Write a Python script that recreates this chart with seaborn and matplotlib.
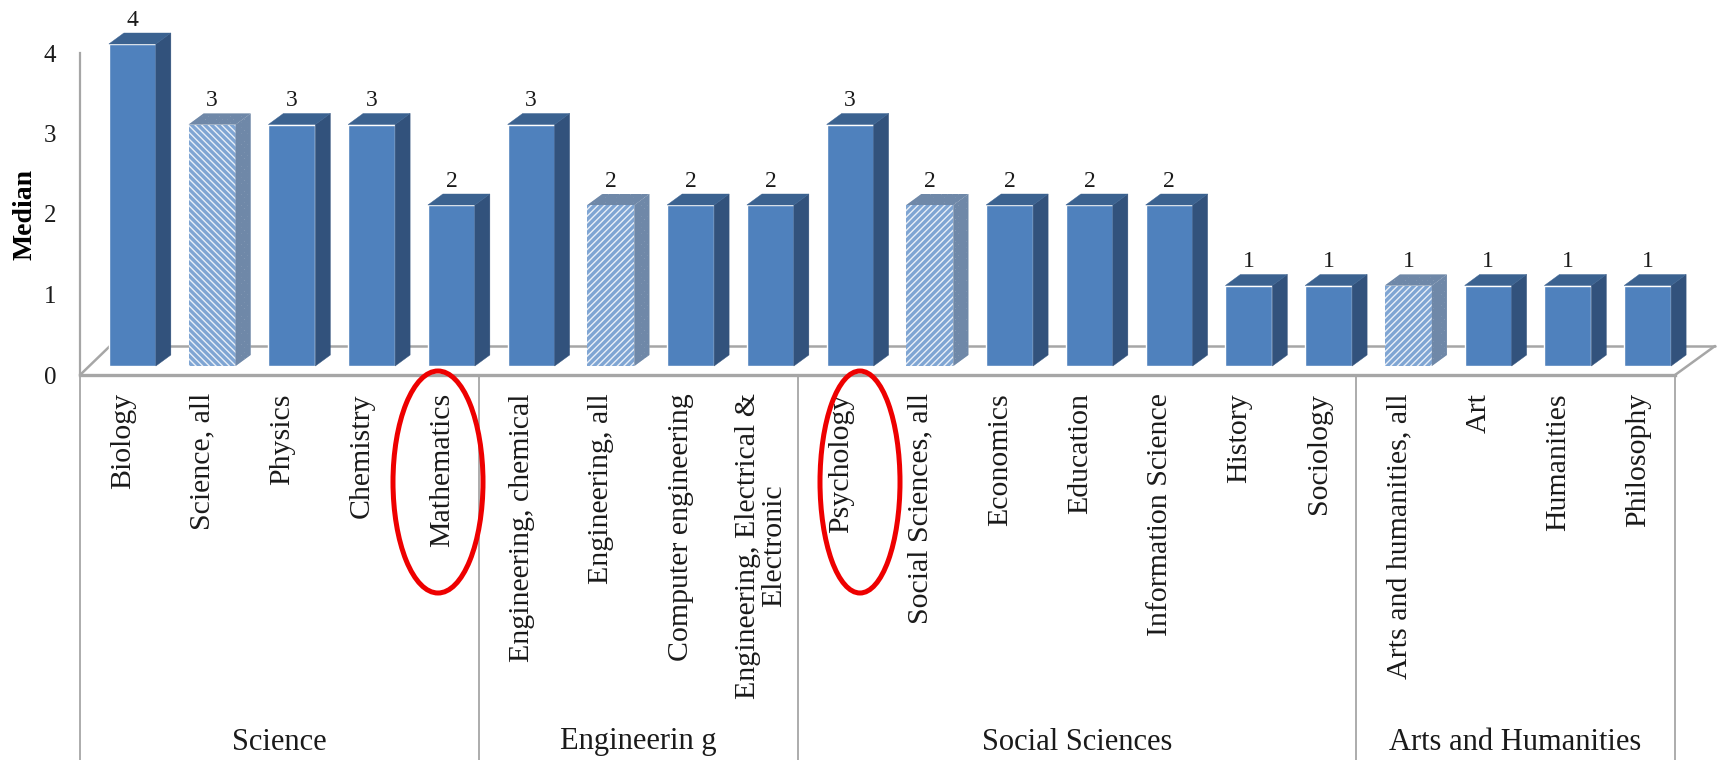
import matplotlib
matplotlib.use("Agg")
import matplotlib.pyplot as plt
import pandas as pd
import seaborn as sns
from matplotlib.lines import Line2D
from matplotlib.patches import Ellipse, Polygon
from matplotlib.transforms import Affine2D

categories = ["Biology", "Science, all", "Physics", "Chemistry", "Mathematics",
              "Engineering, chemical", "Engineering, all", "Computer engineering",
              "Engineering, Electrical &\nElectronic",
              "Psychology", "Social Sciences, all", "Economics", "Education",
              "Information Science", "History", "Sociology",
              "Arts and humanities, all", "Art", "Humanities", "Philosophy"]
medians = [4, 3, 3, 3, 2, 3, 2, 2, 2, 3, 2, 2, 2, 2, 1, 1, 1, 1, 1, 1]
groups = ["Science", "Engineerin g", "Social Sciences", "Arts and Humanities"]
group_sizes = [5, 4, 7, 4]
hatched = {"Science, all": "\\\\\\\\\\", "Engineering, all": "/////",
           "Social Sciences, all": "/////", "Arts and humanities, all": "/////"}

W, H = 1717, 760
sns.set_theme(style="white")
plt.rcParams["font.family"] = ["Liberation Serif", "DejaVu Serif"]
plt.rcParams["hatch.linewidth"] = 2.4

FRONT, SIDE, TOP = "#4F81BD", "#32527C", "#3B6290"
GRID, TEXT = "#A6A6A6", "#1A1A1A"

fig = plt.figure(figsize=(W / 100, H / 100), dpi=100, facecolor="white")
ax = fig.add_axes([80 / W, (H - 375) / H, 1595 / W, 322 / H])
px = Affine2D().scale(1 / W, -1 / H).translate(0, 1) + fig.transFigure

# floor of the 3D box
for (x0, y0), (x1, y1) in [((80, 375), (110, 346)), ((110, 346), (1715, 346)),
                           ((1715, 346), (1675, 375))]:
    fig.add_artist(Line2D([x0, x1], [y0, y1], transform=px, color=GRID, lw=1.8, zorder=0))

df = pd.DataFrame({"category": categories, "median": medians})
sns.barplot(data=df, x="category", y="median", color=FRONT, saturation=1, width=0.589,
            ax=ax, zorder=3)
ax.patch.set_alpha(0)
ax.set_xlim(-0.5, 19.5)
ax.set_ylim(0, 4)

shift = ax.transData + Affine2D().translate(12.5, 9)
dx, dy = 15 / 79.75, 11 / 80.5
for patch, cat, val in zip(ax.patches, categories, medians):
    x0 = patch.get_x()
    x1 = x0 + patch.get_width()
    hatch = hatched.get(cat)
    patch.set_transform(shift)
    patch.set_clip_on(False)
    side = dict(facecolor=SIDE, edgecolor=SIDE, lw=0.3)
    top = dict(facecolor=TOP, edgecolor=TOP, lw=0.3)
    if hatch:
        patch.set_facecolor("#EAF0F8")
        patch.set_edgecolor("#7FA5D3")
        patch.set_hatch(hatch)
        patch.set_linewidth(0)
        side = dict(facecolor="#B4C0CF", edgecolor="#6F88A8", hatch="xxxxxx", lw=0)
        top = dict(facecolor="#B4C0CF", edgecolor="#6F88A8", hatch="xxxxxx", lw=0)
    ax.add_patch(Polygon([(x1, 0), (x1 + dx, dy), (x1 + dx, val + dy), (x1, val)],
                         transform=shift, clip_on=False, zorder=3, **side))
    ax.add_patch(Polygon([(x0, val), (x0 + dx, val + dy), (x1 + dx, val + dy), (x1, val)],
                         transform=shift, clip_on=False, zorder=3, **top))
    ax.annotate(str(val), xy=((x0 + x1) / 2, val), xytext=(9, 23.5), textcoords="offset points",
                ha="center", va="center", fontsize=17, color=TEXT)

sns.despine(ax=ax, top=True, right=True)
for name in ("left", "bottom"):
    ax.spines[name].set_color(GRID)
ax.spines["left"].set_linewidth(1.6)
ax.spines["bottom"].set_linewidth(2.4)

ax.set_yticks(range(5))
ax.tick_params(axis="y", length=0, pad=17, labelsize=18, labelcolor=TEXT)
ax.set_ylabel("Median", fontsize=20, fontweight="bold", color="black")
ax.yaxis.set_label_coords(-42 / 1595, 0.497)

ax.set_xticks(range(len(categories)))
ax.set_xticklabels(categories, rotation=90, ha="center", va="top", fontsize=21.5,
                   color=TEXT, linespacing=1.0, multialignment="center")
ax.tick_params(axis="x", length=0, pad=13)
nudge = Affine2D().translate(3, 0)
for label in ax.get_xticklabels():
    label.set_transform(label.get_transform() + nudge)
ax.set_xlabel("")

# group brackets and names
frac = (375 - H) / 322
xtr = ax.get_xaxis_transform()
start = -0.5
edges = [start]
for size in group_sizes:
    edges.append(edges[-1] + size)
for edge in edges:
    ax.add_line(Line2D([edge, edge], [0, frac], transform=xtr, color=GRID, lw=1.3, clip_on=False))
for name, a, b in zip(groups, edges[:-1], edges[1:]):
    ax.text((a + b) / 2, (375 - 742) / 322, name, transform=xtr, ha="center", va="center",
            fontsize=22, color=TEXT)

# red highlight ellipses
for cx, cy, w, h in [(438, 482, 90, 222), (860, 482, 80, 222)]:
    fig.add_artist(Ellipse((cx, cy), w, h, transform=px, facecolor="none",
                           edgecolor="#EE0000", lw=3.6, zorder=10))

fig.savefig("out.png", dpi=100)
